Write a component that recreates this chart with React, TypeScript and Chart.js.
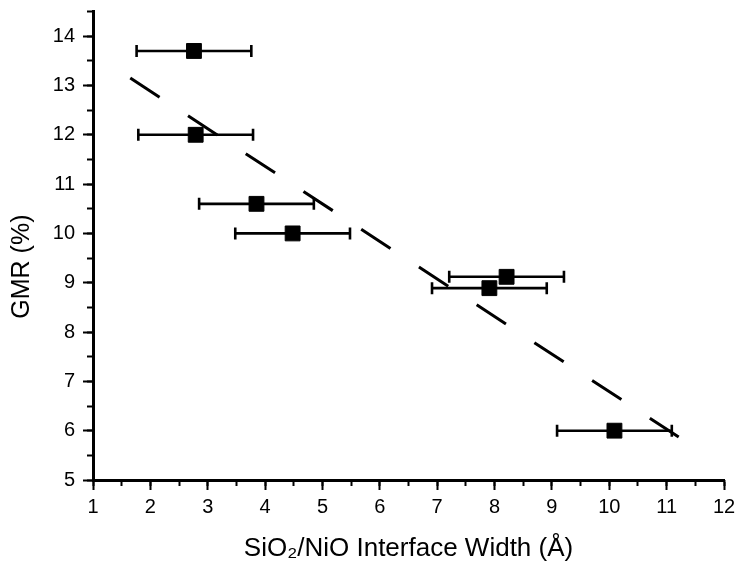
import React, { useEffect, useRef } from "react";
import { Chart, registerables } from "chart.js";

Chart.register(...registerables);

// Data
const xValues = [2.76, 2.79, 3.85, 4.48, 8.21, 7.91, 10.09];
const yValues = [13.7, 12.0, 10.6, 10.0, 9.12, 8.89, 6.0];
const xErrors = [1.0, 1.0, 1.0, 1.0, 1.0, 1.0, 1.0];
const fitX = [1.65, 11.21];
const fitY = [13.15, 5.87];

const X_MIN = 1;
const X_MAX = 12;
const Y_MIN = 5;
const Y_MAX = 14.5;

const FONT = "'Liberation Sans', Arial, Helvetica, sans-serif";

export default function App() {
  const ref = useRef<HTMLCanvasElement | null>(null);

  useEffect(() => {
    if (!ref.current) return;

    const markers = xValues.map((x, i) => ({ x, y: yValues[i] }));
    const errData: { x: number; y: number | null }[] = [];
    xValues.forEach((x, i) => {
      errData.push({ x: x - xErrors[i], y: yValues[i] });
      errData.push({ x: x + xErrors[i], y: yValues[i] });
      errData.push({ x, y: null });
    });
    const fitData = fitX.map((x, i) => ({ x, y: fitY[i] }));

    const zeroPad = (s: any) => {
      s.paddingTop = 0;
      s.paddingBottom = 0;
      s.paddingLeft = 0;
      s.paddingRight = 0;
    };

    const chart = new Chart(ref.current, {
      type: "scatter",
      data: {
        datasets: [
          {
            label: "GMR",
            data: markers,
            pointStyle: "rect",
            pointRadius: 10.5,
            pointHoverRadius: 10.5,
            backgroundColor: "#000",
            borderColor: "#000",
            borderWidth: 1,
            showLine: false,
          },
          {
            label: "err",
            data: errData,
            showLine: true,
            spanGaps: false,
            borderColor: "#000",
            borderWidth: 2.6,
            pointStyle: "line",
            pointRotation: 90,
            pointRadius: 6,
            pointHoverRadius: 6,
            pointBorderWidth: 2.6,
            pointBorderColor: "#000",
            backgroundColor: "#000",
          },
          {
            label: "fit",
            data: fitData,
            showLine: true,
            borderColor: "#000",
            borderWidth: 3,
            borderDash: [35, 34],
            borderCapStyle: "butt",
            pointRadius: 0,
            pointHoverRadius: 0,
          },
        ],
      },
      options: {
        animation: false,
        responsive: false,
        events: [],
        layout: { padding: { top: 9, right: 14, bottom: 0, left: 0 } },
        plugins: {
          legend: { display: false },
          tooltip: { enabled: false },
        },
        scales: {
          x: {
            type: "linear",
            position: "bottom",
            axis: "x",
            min: X_MIN,
            max: X_MAX,
            weight: 1,
            ticks: {
              stepSize: 1,
              includeBounds: false,
              color: "#000",
              padding: 5,
              maxRotation: 0,
              font: { family: FONT, size: 20 },
            },
            grid: {
              drawOnChartArea: false,
              drawTicks: true,
              tickLength: 10,
              tickWidth: 2,
              tickColor: "#000",
            },
            border: { display: true, color: "#000", width: 3 },
            title: {
              display: true,
              text: "SiO\u2082/NiO Interface Width (\u00C5)",
              color: "#000",
              font: { family: FONT, size: 26 },
              padding: { top: 0, bottom: 3 },
            },
            afterFit: (s: any) => {
              s.height = 87;
              zeroPad(s);
            },
          },
          xMinor: {
            type: "linear",
            position: "bottom",
            axis: "x",
            min: X_MIN,
            max: X_MAX,
            weight: 0,
            ticks: { stepSize: 0.5, display: false },
            grid: {
              drawOnChartArea: false,
              drawTicks: true,
              tickLength: 6,
              tickWidth: 2,
              tickColor: "#000",
            },
            border: { display: false },
            afterFit: (s: any) => {
              s.height = 0;
              zeroPad(s);
            },
          },
          y: {
            type: "linear",
            position: "left",
            axis: "y",
            min: Y_MIN,
            max: Y_MAX,
            weight: 1,
            ticks: {
              stepSize: 1,
              includeBounds: false,
              color: "#000",
              padding: 8,
              font: { family: FONT, size: 20 },
            },
            grid: {
              drawOnChartArea: false,
              drawTicks: true,
              tickLength: 10,
              tickWidth: 2,
              tickColor: "#000",
            },
            border: { display: true, color: "#000", width: 3 },
            title: {
              display: true,
              text: "GMR (%)      ",
              color: "#000",
              font: { family: FONT, size: 25 },
              padding: { top: 7, bottom: 0 },
            },
            afterFit: (s: any) => {
              s.width = 93;
              zeroPad(s);
            },
          },
          yMinor: {
            type: "linear",
            position: "left",
            axis: "y",
            min: Y_MIN,
            max: Y_MAX,
            weight: 0,
            ticks: { stepSize: 0.5, display: false },
            grid: {
              drawOnChartArea: false,
              drawTicks: true,
              tickLength: 6,
              tickWidth: 2,
              tickColor: "#000",
            },
            border: { display: false },
            afterFit: (s: any) => {
              s.width = 0;
              zeroPad(s);
            },
          },
        },
      } as any,
    });

    return () => chart.destroy();
  }, []);

  return (
    <div
      style={{
        position: "fixed",
        left: 0,
        top: 0,
        width: 738,
        height: 567,
        background: "#fff",
      }}
    >
      <canvas ref={ref} width={738} height={567} />
    </div>
  );
}
